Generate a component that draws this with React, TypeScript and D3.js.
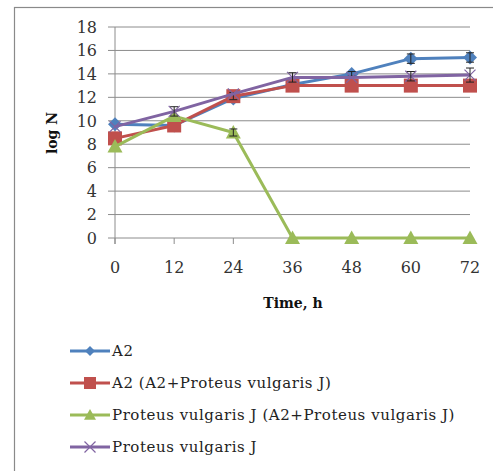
import React from "react";
import * as d3 from "d3";

const times = [0, 12, 24, 36, 48, 60, 72];
const a2 = [9.7, 9.6, 11.9, 13.1, 14.0, 15.3, 15.4];
const a2Mix = [8.5, 9.6, 12.1, 13.0, 13.0, 13.0, 13.0];
const pvMix = [7.8, 10.4, 9.0, 0, 0, 0, 0];
const pv = [9.5, 10.8, 12.3, 13.7, 13.7, 13.8, 13.9];
const a2Err = [0, 0, 0.2, 0, 0.2, 0.4, 0.4];
const a2MixErr = [0, 0, 0.3, 0, 0, 0, 0];
const pvMixErr = [0, 0, 0.3, 0, 0, 0, 0];
const pvErr = [0, 0.4, 0, 0.4, 0, 0.4, 0.6];
const yTicks = [0, 2, 4, 6, 8, 10, 12, 14, 16, 18];
const seriesNames = [
  "A2",
  "A2 (A2+Proteus vulgaris J)",
  "Proteus vulgaris J (A2+Proteus vulgaris J)",
  "Proteus vulgaris J",
];

const series = [
  { name: seriesNames[0], values: a2, err: a2Err, color: "#4F81BD", marker: "diamond" },
  { name: seriesNames[1], values: a2Mix, err: a2MixErr, color: "#C0504D", marker: "square" },
  { name: seriesNames[2], values: pvMix, err: pvMixErr, color: "#9BBB59", marker: "triangle" },
  { name: seriesNames[3], values: pv, err: pvErr, color: "#8064A2", marker: "x" },
];

const serif = "'DejaVu Serif', 'Liberation Serif', serif";

function Marker({ type, x, y, color, legend }: any) {
  if (type === "diamond") {
    const s = legend ? 5 : 7;
    return <path d={`M${x},${y - s}L${x + s},${y}L${x},${y + s}L${x - s},${y}Z`} fill={color} />;
  }
  if (type === "square") {
    const s = legend ? 6 : 7;
    return <rect x={x - s} y={y - s} width={2 * s} height={2 * s} fill={color} />;
  }
  if (type === "triangle") {
    const s = legend ? 6 : 7.5;
    return <path d={`M${x},${y - s}L${x + s},${y + s * 0.8}L${x - s},${y + s * 0.8}Z`} fill={color} />;
  }
  const s = 5.5;
  return (
    <path d={`M${x - s},${y - s}L${x + s},${y + s}M${x - s},${y + s}L${x + s},${y - s}`} stroke={color} strokeWidth={1.2} fill="none" />
  );
}

export default function App() {
  const W = 493, H = 471;
  const x = d3.scaleLinear().domain([0, 72]).range([115, 470]);
  const y = d3.scaleLinear().domain([0, 18]).range([238, 27]);
  const line = d3.line<number>().x((_, i) => x(times[i])).y((d) => y(d));

  return (
    <svg width={W} height={H} style={{ position: "absolute", left: 0, top: 0, background: "#fff" }}>
      <rect x={14.5} y={7.5} width={520} height={520} fill="#fff" stroke="#8a8a8a" strokeWidth={1.2} />
      {yTicks.map((t) => (
        <g key={t}>
          <line x1={108} x2={470} y1={y(t)} y2={y(t)} stroke="#8c8c8c" strokeWidth={1} />
          <text x={97} y={y(t)} dy="0.36em" textAnchor="end" fontFamily={serif} fontSize={16} fill="#333">
            {t}
          </text>
        </g>
      ))}
      <line x1={115} x2={115} y1={27} y2={244} stroke="#8c8c8c" strokeWidth={1} />
      {times.map((t) => (
        <g key={t}>
          <line x1={x(t)} x2={x(t)} y1={238} y2={244} stroke="#8c8c8c" strokeWidth={1} />
          <text x={x(t)} y={267} dy="0.36em" textAnchor="middle" fontFamily={serif} fontSize={16} fill="#333">
            {t}
          </text>
        </g>
      ))}
      <text x={293} y={303} dy="0.36em" textAnchor="middle" fontFamily={serif} fontSize={14} fontWeight="bold" fill="#111">
        Time, h
      </text>
      <text transform={`translate(52,133) rotate(-90)`} dy="0.36em" textAnchor="middle" fontFamily={serif} fontSize={14} fontWeight="bold" fill="#111">
        log N
      </text>
      {series.map((s) => (
        <g key={s.name}>
          <path d={line(s.values) || ""} fill="none" stroke={s.color} strokeWidth={3} strokeLinejoin="round" />
          {s.values.map((v, i) => (
            <Marker key={i} type={s.marker} x={x(times[i])} y={y(v)} color={s.color} />
          ))}
          {s.values.map((v, i) =>
            s.err[i] > 0 ? (
              <g key={"e" + i} stroke="#222" strokeWidth={1}>
                <line x1={x(times[i])} x2={x(times[i])} y1={y(v - s.err[i])} y2={y(v + s.err[i])} />
                <line x1={x(times[i]) - 4} x2={x(times[i]) + 4} y1={y(v + s.err[i])} y2={y(v + s.err[i])} />
                <line x1={x(times[i]) - 4} x2={x(times[i]) + 4} y1={y(v - s.err[i])} y2={y(v - s.err[i])} />
              </g>
            ) : null
          )}
        </g>
      ))}
      {series.map((s, i) => {
        const ly = 351 + i * 32;
        return (
          <g key={"l" + s.name}>
            <line x1={70} x2={110} y1={ly} y2={ly} stroke={s.color} strokeWidth={3} />
            <Marker type={s.marker} x={90} y={ly} color={s.color} legend />
            <text x={112} y={ly} dy="0.36em" fontFamily={serif} fontSize={15} letterSpacing={0.55} fill="#222">
              {s.name}
            </text>
          </g>
        );
      })}
    </svg>
  );
}
